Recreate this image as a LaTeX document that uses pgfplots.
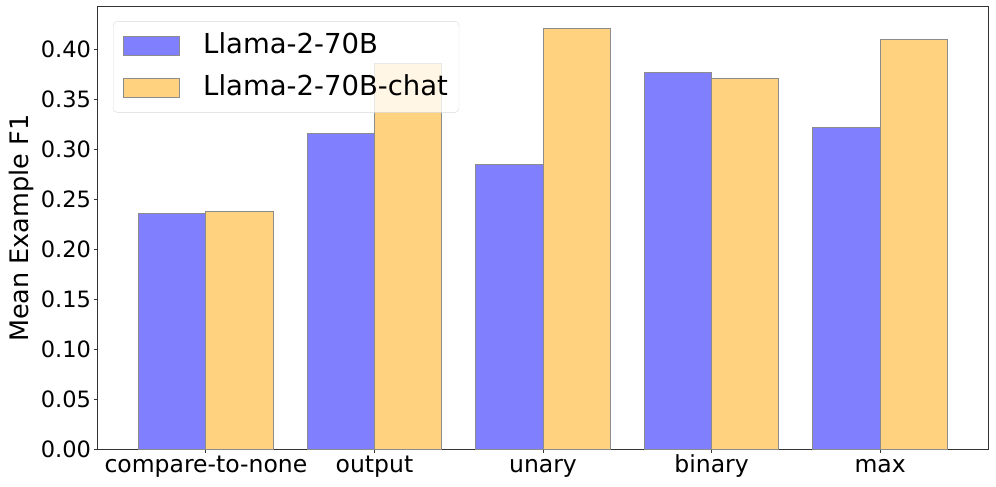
\documentclass[border=0pt]{standalone}
\usepackage{fontspec}
\setmainfont{DejaVu Sans}
\usepackage{pgfplots}
\pgfplotsset{compat=1.18}
\definecolor{baseblue}{RGB}{128,128,255}
\definecolor{chatorange}{RGB}{255,210,128}
\definecolor{edgegray}{RGB}{140,140,140}

\begin{document}
\begin{tikzpicture}
\path[use as bounding box] (-98pt,-37.5pt) rectangle (898pt,449.5pt);
\begin{axis}[
    scale only axis,
    width=890pt, height=442.5pt,
    xmin=-0.64, xmax=4.64,
    ymin=0, ymax=0.442,
    xtick={0,1,2,3,4},
    xticklabels={compare-to-none,output,unary,binary,max},
    ytick={0,0.05,0.10,0.15,0.20,0.25,0.30,0.35,0.40},
    yticklabel style={/pgf/number format/fixed, /pgf/number format/fixed zerofill, /pgf/number format/precision=2},
    /pgf/number format/assume math mode=true,
    xticklabel style={font=\fontsize{23.5}{28}\selectfont, text height=17pt, text depth=5pt, inner ysep=2pt},
    yticklabel style={font=\fontsize{22.5}{27}\selectfont},
    ylabel={Mean Example F1},
    ylabel style={font=\fontsize{25.5}{30}\selectfont},
    xtick pos=left, ytick pos=left,
    tick align=outside,
    major tick length=3.5pt,
    axis line style={line width=1pt, black!80},
    tick style={line width=1pt, black!80},
    legend style={at={(0.0169,0.968)}, anchor=north west,
        draw=black!15, rounded corners=4pt, fill=white, fill opacity=0.8, text opacity=1,
        font=\fontsize{27.5}{32}\selectfont,
        inner xsep=10pt, inner ysep=8pt, row sep=8pt, column sep=22pt,
        nodes={inner xsep=1pt, inner ysep=3pt, text height=21.5pt, text depth=6pt}},
    legend cell align=left,
    legend image code/.code={\draw[#1, sharp corners, fill opacity=1, draw=edgegray, line width=1pt] (0pt,-9.5pt) rectangle (56pt,9.5pt);},
  ]
  \addplot[ybar, bar width=0.4, bar shift=-0.2, fill=baseblue, draw=edgegray, line width=1pt]
    coordinates {(0,0.236) (1,0.316) (2,0.285) (3,0.377) (4,0.322)};
  \addlegendentry{Llama-2-70B}
  \addplot[ybar, bar width=0.4, bar shift=0.2, fill=chatorange, draw=edgegray, line width=1pt]
    coordinates {(0,0.238) (1,0.386) (2,0.421) (3,0.371) (4,0.410)};
  \addlegendentry{Llama-2-70B-chat}
\end{axis}
\end{tikzpicture}
\end{document}
